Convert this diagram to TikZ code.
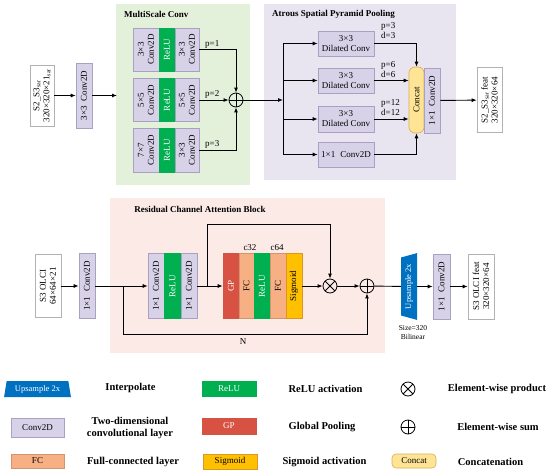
\documentclass[tikz,border=0pt]{standalone}
\usepackage{fontspec}
\setmainfont{Liberation Serif}
\usetikzlibrary{arrows.meta,shapes.geometric,calc}
\definecolor{convc}{RGB}{216,210,232}
\definecolor{convb}{RGB}{170,160,195}
\definecolor{relug}{RGB}{0,176,80}
\definecolor{gpred}{RGB}{216,82,68}
\definecolor{fcor}{RGB}{246,176,132}
\definecolor{sigy}{RGB}{255,192,0}
\definecolor{sigb}{RGB}{220,150,40}
\definecolor{concy}{RGB}{255,228,150}
\definecolor{concb}{RGB}{215,175,80}
\definecolor{upblue}{RGB}{0,112,192}
\definecolor{panelg}{RGB}{227,240,218}
\definecolor{panell}{RGB}{233,229,240}
\definecolor{panelp}{RGB}{252,234,231}
% #1 name, #2 x, #3 y, #4 height, #5 width, #6 style, #7 text (rotated)
\newcommand\mybox[7]{%
  \node[#6, minimum width=#5pt, minimum height=#4pt] (#1) at (#2,#3) {};
  \node[#6, draw=none, fill=none, rotate=90, align=center, inner sep=0pt,
        minimum width=0pt, minimum height=0pt] (#1t) at (#1.center) {#7};}
\begin{document}
\begin{tikzpicture}[x=1pt,y=-1pt,
  box/.style={draw=convb, line width=0.6pt, fill=convc, font=\fontsize{9}{10}\selectfont, inner sep=0pt},
  relu/.style={box, fill=relug, draw=relug, text=white},
  gp/.style={box, fill=gpred, draw=gpred, text=white},
  fc/.style={box, fill=fcor, draw=fcor!85!black},
  sig/.style={box, fill=sigy, draw=sigb},
  inbox/.style={box, fill=white, draw=gray!60},
  concat/.style={box, fill=concy, draw=concb, rounded corners=6pt},
  upbox/.style={trapezium, trapezium stretches=true, fill=upblue, text=white, inner sep=0pt,
     font=\fontsize{8.5}{9}\selectfont},
  title/.style={font=\bfseries\fontsize{9}{10}\selectfont, inner sep=0pt},
  lbl/.style={font=\fontsize{9}{10}\selectfont, inner sep=0pt},
  small/.style={font=\fontsize{7.5}{9}\selectfont, inner sep=0pt, align=center},
  leg/.style={font=\bfseries\fontsize{10.5}{12}\selectfont, inner sep=0pt, align=center},
  arr/.style={-{Latex[length=5pt,width=4pt]}, line width=0.9pt},
  ln/.style={line width=0.9pt},
  opsum/.style={circle, draw, line width=0.8pt, minimum size=14pt, inner sep=0pt,
    path picture={\draw[line width=0.8pt] (path picture bounding box.north)--(path picture bounding box.south)
      (path picture bounding box.west)--(path picture bounding box.east);}},
  opprod/.style={circle, draw, line width=0.8pt, minimum size=14pt, inner sep=0pt,
    path picture={\draw[line width=0.8pt] (path picture bounding box.north west)--(path picture bounding box.south east)
      (path picture bounding box.south west)--(path picture bounding box.north east);}}
]
\useasboundingbox (0,0) rectangle (550,475);

% ---------------- panels
\fill[panelg] (116,4) rectangle (250,185);
\fill[panell] (264,4) rectangle (456,180);
\fill[panelp] (110,198) rectangle (385,353);
\node[title, anchor=west] (t1) at (124,14) {MultiScale Conv};
\node[title, anchor=west] (t2) at (272,14) {Atrous Spatial Pyramid Pooling};
\node[title] (t3) at (200,209) {Residual Channel Attention Block};

% ---------------- top input
\mybox{in1}{42}{95.5}{61}{24}{inbox}{S2\_S3\textsubscript{sar}\\320×320×21\textsubscript{sar}}
\mybox{c33}{84}{95.5}{65}{16}{box}{3×3\;\;Conv2D}
\coordinate (msin) at (117,95.5);
\draw[arr] (in1) -- (c33);
\draw[arr] (c33) -- (msin);

% ---------------- multiscale rows
\mybox{r1a}{146}{49.5}{43}{26}{box}{3×3\\Conv2D}
\mybox{r1r}{167}{49.5}{43}{16}{relu}{ReLU}
\mybox{r1b}{187}{49.5}{43}{24}{box}{3×3\\Conv2D}
\mybox{r2a}{146}{100}{43}{26}{box}{5×5\\Conv2D}
\mybox{r2r}{167}{100}{43}{16}{relu}{ReLU}
\mybox{r2b}{187}{100}{43}{24}{box}{5×5\\Conv2D}
\mybox{r3a}{146}{150}{44}{26}{box}{7×7\\Conv2D}
\mybox{r3r}{167}{150}{44}{16}{relu}{ReLU}
\mybox{r3b}{187}{150}{44}{24}{box}{3×3\\Conv2D}
\node[opsum] (sum1) at (236,100) {};
\draw[arr] (r1b.east) -| (sum1);
\draw[arr] (r2b.east) -- (sum1);
\draw[arr] (r3b.east) -| (sum1);
\node[lbl, anchor=west] (p1) at (205,44) {p=1};
\node[lbl, anchor=west] (p2) at (205,94) {p=2};
\node[lbl, anchor=west] (p3) at (205,144) {p=3};

% ---------------- ASPP
\coordinate (jA) at (283,100);
\draw[arr] (sum1) -- (jA);
\node[box, minimum width=56pt, minimum height=25pt, align=center] (d1) at (346,43.5) {3×3\\Dilated Conv};
\node[box, minimum width=56pt, minimum height=25pt, align=center] (d2) at (346,80.5) {3×3\\Dilated Conv};
\node[box, minimum width=56pt, minimum height=26pt, align=center] (d3) at (346,119) {3×3\\Dilated Conv};
\node[box, minimum width=56pt, minimum height=25pt] (d4) at (346,154.5) {1×1\;\;Conv2D};
\draw[arr] (jA) |- (d1);
\draw[arr] (jA) |- (d2);
\draw[arr] (jA) |- (d3);
\draw[arr] (jA) |- (d4);
\mybox{cc}{416.5}{100}{66}{15}{concat}{Concat}
\mybox{c11}{432}{100.5}{65}{16}{box}{1×1\;\;Conv2D}
\draw[arr] (d1.east) -| (cc);
\draw[arr] (d2.east) -- (d2.east -| cc.west);
\draw[arr] (d3.east) -- (d3.east -| cc.west);
\draw[arr] (d4.east) -| (cc);
\node[lbl, anchor=west, align=left] (pd1) at (381,31) {p=3\\d=3};
\node[lbl, anchor=west, align=left] (pd2) at (381,70) {p=6\\d=6};
\node[lbl, anchor=west, align=left] (pd3) at (381,108) {p=12\\d=12};
\mybox{out1}{489.5}{100}{65}{25}{inbox}{S2\_S3\textsubscript{sar} feat\\320×320×64}
\draw[arr] (c11) -- (out1);

% ---------------- bottom
\mybox{in2}{48}{286}{63}{26}{inbox}{S3 OLCI\\64×64×21}
\mybox{c1b}{87}{286}{65}{16}{box}{1×1\;\;Conv2D}
\draw[arr] (in2) -- (c1b);
\mybox{rc1}{156}{286}{65}{16}{box}{1×1\;\;Conv2D}
\mybox{rcr}{172.5}{286}{65}{17}{relu}{ReLU}
\mybox{rc2}{189}{286}{65}{16}{box}{1×1\;\;Conv2D}
\coordinate (jB) at (123,286);
\draw[arr] (c1b) -- (rc1);
\mybox{gp}{231}{286}{65}{16}{gp}{GP}
\mybox{fc1}{246.5}{286}{65}{15}{fc}{FC}
\mybox{rl2}{262}{286}{65}{16}{relu}{ReLU}
\mybox{fc2}{278}{286}{65}{16}{fc}{FC}
\mybox{sg}{294}{286}{65}{16}{sig}{Sigmoid}
\node[lbl] (c32) at (250,248) {c32};
\node[lbl] (c64) at (277,248) {c64};
\coordinate (jC) at (207,286);
\draw[arr] (rc2) -- (gp);
\node[opprod] (prod) at (330,286) {};
\node[opsum] (sumB) at (367,286) {};
\coordinate (jD) at (330,224);
\draw[arr] (jC) |- (jD) -- (prod);
\draw[arr] (sg) -- (prod);
\draw[arr] (prod) -- (sumB);
\coordinate (nB) at (367,334);
\draw[arr] (jB) |- (nB) -- (sumB);
\node[lbl] (N) at (243,342) {N};
\node[upbox, minimum width=67pt, minimum height=16pt, trapezium angle=66, rotate=90] (up) at (409,286.5) {Upsample 2x};
\draw[ln] (sumB) -- (up);
\node[small] (sz) at (413,333) {Size=320\\Bilinear};
\mybox{cO}{441.5}{286.5}{65}{17}{box}{1×1\;\;Conv2D}
\mybox{out2}{481}{286.5}{65}{26}{inbox}{S3 OLCI feat\\320×320×64}
\draw[arr] (up) -- (cO);
\draw[arr] (cO) -- (out2);

% ---------------- legend
\node[upbox, minimum width=67pt, minimum height=16pt, trapezium angle=76] (lup) at (37.5,389) {Upsample 2x};
\node[leg] (l1) at (130.5,388) {Interpolate};
\node[relu, minimum width=54pt, minimum height=15pt] (lrelu) at (229,388.5) {ReLU};
\node[leg] (l2) at (325.5,389) {ReLU activation};
\node[opprod] (lprod) at (408,389) {};
\node[leg] (l3) at (497,389) {Element-wise product};

\node[box, minimum width=53pt, minimum height=19pt] (lconv) at (37.5,427.5) {Conv2D};
\node[leg] (l4) at (130,428) {Two-dimensional\\convolutional layer};
\node[gp, minimum width=54pt, minimum height=16pt] (lgp) at (229,426) {GP};
\node[leg] (l5) at (322,427) {Global Pooling};
\node[opsum] (lsum) at (408,427) {};
\node[leg] (l6) at (498,427) {Element-wise sum};

\node[fc, minimum width=53pt, minimum height=14pt] (lfc) at (37.5,461) {FC};
\node[leg] (l7) at (133,462) {Full-connected layer};
\node[sig, minimum width=54pt, minimum height=15pt] (lsig) at (230,461.5) {Sigmoid};
\node[leg] (l8) at (324.5,462) {Sigmoid activation};
\node[concat, minimum width=44pt, minimum height=14pt, rounded corners=4pt] (lcc) at (414,461) {Concat};
\node[leg] (l9) at (490.5,462) {Concatenation};
\end{tikzpicture}
\end{document}
